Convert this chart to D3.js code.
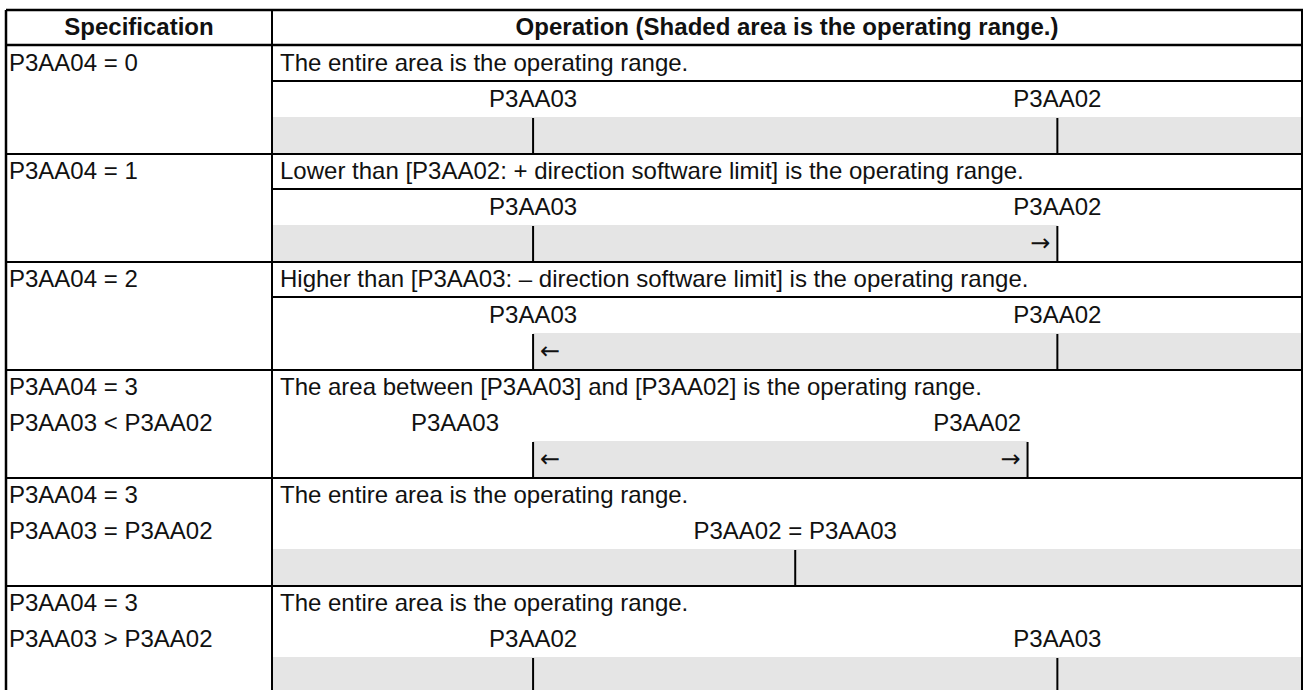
<!DOCTYPE html>
<html>
<head>
<meta charset="utf-8">
<script src="https://cdn.jsdelivr.net/npm/d3@7"></script>
<style>
  html, body { margin: 0; padding: 0; background: #fff; }
  svg { display: block; }
  text { font-family: "Liberation Sans", Arial, Helvetica, sans-serif; fill: #111; }
  .arrow { font-family: "DejaVu Sans", "Liberation Sans", sans-serif; }
</style>
</head>
<body>
<svg id="chart" width="1303" height="690"></svg>
<script>
// ---- data ----
const headers = ["Specification", "Operation (Shaded area is the operating range.)"];
const specLine1 = ["P3AA04 = 0", "P3AA04 = 1", "P3AA04 = 2", "P3AA04 = 3", "P3AA04 = 3", "P3AA04 = 3"];
const specLine2 = ["", "", "", "P3AA03 < P3AA02", "P3AA03 = P3AA02", "P3AA03 > P3AA02"];
const descriptions = [
  "The entire area is the operating range.",
  "Lower than [P3AA02: + direction software limit] is the operating range.",
  "Higher than [P3AA03: \u2013 direction software limit] is the operating range.",
  "The area between [P3AA03] and [P3AA02] is the operating range.",
  "The entire area is the operating range.",
  "The entire area is the operating range."
];
// positions along the operation axis (0 = left edge, 1000 = right edge)
const markPositions = [[253, 763], [253, 763], [253, 763], [253, 734], [508], [253, 763]];
const markLabels = [["P3AA03", "P3AA02"], ["P3AA03", "P3AA02"], ["P3AA03", "P3AA02"], ["P3AA03", "P3AA02"], ["P3AA02 = P3AA03"], ["P3AA02", "P3AA03"]];
const labelPositions = [[253, 763], [253, 763], [253, 763], [177, 685], [508], [253, 763]];
const shadeFrom = [0, 0, 253, 253, 0, 0];
const shadeTo = [1000, 763, 1000, 734, 1000, 1000];
const arrowLeft = [null, null, 253, 253, null, null];   // "←" just right of this mark
const arrowRight = [null, 763, null, 734, null, null];  // "→" just left of this mark

(function () {
  // ---- layout ----
  const H = 690;
  const L = 6, R = 1302, T = 10, headBottom = 45, colX = 272;
  const rowTop0 = 46, rowH = 108;
  const fs = 24;

  const svg = d3.select("#chart");
  const x = d3.scaleLinear().domain([0, 1000]).range([colX + 1, R - 1]);
  const rows = d3.range(specLine1.length);
  const y = i => rowTop0 + i * rowH;

  // shading
  svg.append("g").selectAll("rect").data(rows).join("rect")
    .attr("x", i => x(shadeFrom[i]))
    .attr("y", i => y(i) + 71)
    .attr("width", i => x(shadeTo[i]) - x(shadeFrom[i]))
    .attr("height", rowH - 71)
    .attr("fill", "#e5e5e5");

  // header text
  svg.append("text").attr("x", (L + colX) / 2).attr("y", 35)
    .attr("text-anchor", "middle").attr("font-weight", "bold").attr("font-size", fs).text(headers[0]);
  svg.append("text").attr("x", (colX + R) / 2).attr("y", 35)
    .attr("text-anchor", "middle").attr("font-weight", "bold").attr("font-size", fs).text(headers[1]);

  const g = svg.append("g");
  rows.forEach(i => {
    const t = y(i);
    const twoLine = specLine2[i] !== "";
    g.append("text").attr("x", 9).attr("y", t + 25).attr("font-size", fs).text(specLine1[i]);
    if (twoLine) g.append("text").attr("x", 9).attr("y", t + 61).attr("font-size", fs).text(specLine2[i]);
    g.append("text").attr("x", colX + 8).attr("y", t + 25).attr("font-size", fs).text(descriptions[i]);
    if (!twoLine) {
      g.append("line").attr("x1", colX).attr("x2", R).attr("y1", t + 35).attr("y2", t + 35)
        .attr("stroke", "#000").attr("stroke-width", 1.8);
    }
    const ly = t + 61;
    labelPositions[i].forEach((p, k) => {
      g.append("text").attr("x", x(p)).attr("y", ly).attr("text-anchor", "middle")
        .attr("font-size", fs).text(markLabels[i][k]);
    });
    markPositions[i].forEach(p => {
      g.append("line").attr("x1", x(p)).attr("x2", x(p)).attr("y1", t + 72).attr("y2", t + rowH)
        .attr("stroke", "#000").attr("stroke-width", 2);
    });
    if (arrowLeft[i] !== null) {
      g.append("text").attr("class", "arrow").attr("x", x(arrowLeft[i]) + 7).attr("y", t + 97)
        .attr("font-size", fs).text("\u2190");
    }
    if (arrowRight[i] !== null) {
      g.append("text").attr("class", "arrow").attr("x", x(arrowRight[i]) - 7).attr("y", t + 97)
        .attr("text-anchor", "end").attr("font-size", fs).text("\u2192");
    }
  });

  // grid lines
  const grid = svg.append("g").attr("stroke", "#000").attr("fill", "none");
  grid.append("line").attr("x1", L).attr("x2", R + 1).attr("y1", T).attr("y2", T).attr("stroke-width", 2.5);
  grid.append("line").attr("x1", L).attr("x2", R + 1).attr("y1", headBottom).attr("y2", headBottom).attr("stroke-width", 2.5);
  grid.selectAll("line.row").data(rows.slice(1)).join("line").attr("class", "row")
    .attr("x1", L).attr("x2", R + 1).attr("y1", i => y(i)).attr("y2", i => y(i)).attr("stroke-width", 2);
  grid.append("line").attr("x1", L).attr("x2", L).attr("y1", T).attr("y2", H).attr("stroke-width", 2.5);
  grid.append("line").attr("x1", R).attr("x2", R).attr("y1", T).attr("y2", H).attr("stroke-width", 2);
  grid.append("line").attr("x1", colX).attr("x2", colX).attr("y1", T).attr("y2", H).attr("stroke-width", 2);
})();
</script>
</body>
</html>
